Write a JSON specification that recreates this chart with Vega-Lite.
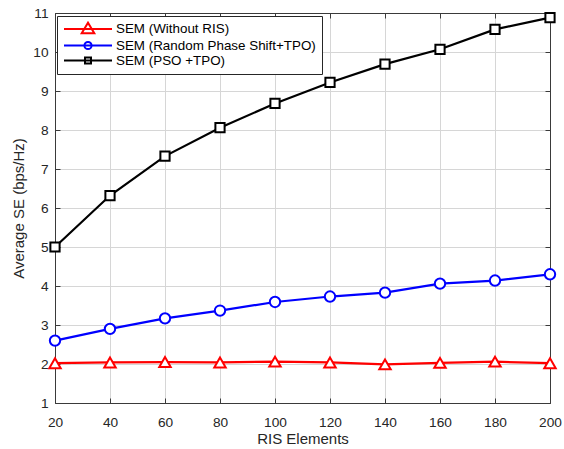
{
  "$schema": "https://vega.github.io/schema/vega-lite/v6.json",
  "width": 495,
  "height": 390,
  "autosize": {"type": "none"},
  "padding": {"left": 55, "top": 13, "right": 14, "bottom": 46},
  "background": "white",
  "config": {
    "font": "Liberation Sans",
    "view": {"stroke": "#3a3a3a", "strokeWidth": 1},
    "axis": {
      "labelFont": "Liberation Sans",
      "titleFont": "Liberation Sans",
      "labelFontSize": 13.7,
      "titleFontSize": 15,
      "labelColor": "#262626",
      "titleColor": "#262626",
      "titleFontWeight": "normal",
      "domainColor": "#3a3a3a",
      "tickColor": "#3a3a3a",
      "labelFlush": false
    },
    "legend": {
      "title": null,
      "orient": "none",
      "legendX": 2,
      "legendY": 3,
      "direction": "vertical",
      "padding": 6,
      "strokeColor": "#262626",
      "fillColor": "white",
      "labelFont": "Liberation Sans",
      "labelFontSize": 13.4,
      "labelColor": "#000000",
      "labelLimit": 400,
      "symbolSize": 144,
      "symbolOffset": 18,
      "labelOffset": 21,
      "rowPadding": -0.5,
      "symbolStrokeWidth": 2,
      "symbolFillColor": "white",
      "symbolOpacity": 1
    }
  },
  "data": {
    "values": [
      {"n": 20, "se": 2.02, "series": "SEM (Without RIS)"},
      {"n": 40, "se": 2.04, "series": "SEM (Without RIS)"},
      {"n": 60, "se": 2.05, "series": "SEM (Without RIS)"},
      {"n": 80, "se": 2.04, "series": "SEM (Without RIS)"},
      {"n": 100, "se": 2.06, "series": "SEM (Without RIS)"},
      {"n": 120, "se": 2.04, "series": "SEM (Without RIS)"},
      {"n": 140, "se": 1.99, "series": "SEM (Without RIS)"},
      {"n": 160, "se": 2.03, "series": "SEM (Without RIS)"},
      {"n": 180, "se": 2.06, "series": "SEM (Without RIS)"},
      {"n": 200, "se": 2.02, "series": "SEM (Without RIS)"},
      {"n": 20, "se": 2.6, "series": "SEM (Random Phase Shift+TPO)"},
      {"n": 40, "se": 2.9, "series": "SEM (Random Phase Shift+TPO)"},
      {"n": 60, "se": 3.17, "series": "SEM (Random Phase Shift+TPO)"},
      {"n": 80, "se": 3.37, "series": "SEM (Random Phase Shift+TPO)"},
      {"n": 100, "se": 3.59, "series": "SEM (Random Phase Shift+TPO)"},
      {"n": 120, "se": 3.73, "series": "SEM (Random Phase Shift+TPO)"},
      {"n": 140, "se": 3.83, "series": "SEM (Random Phase Shift+TPO)"},
      {"n": 160, "se": 4.06, "series": "SEM (Random Phase Shift+TPO)"},
      {"n": 180, "se": 4.14, "series": "SEM (Random Phase Shift+TPO)"},
      {"n": 200, "se": 4.3, "series": "SEM (Random Phase Shift+TPO)"},
      {"n": 20, "se": 5.0, "series": "SEM (PSO +TPO)"},
      {"n": 40, "se": 6.32, "series": "SEM (PSO +TPO)"},
      {"n": 60, "se": 7.33, "series": "SEM (PSO +TPO)"},
      {"n": 80, "se": 8.06, "series": "SEM (PSO +TPO)"},
      {"n": 100, "se": 8.68, "series": "SEM (PSO +TPO)"},
      {"n": 120, "se": 9.22, "series": "SEM (PSO +TPO)"},
      {"n": 140, "se": 9.69, "series": "SEM (PSO +TPO)"},
      {"n": 160, "se": 10.07, "series": "SEM (PSO +TPO)"},
      {"n": 180, "se": 10.58, "series": "SEM (PSO +TPO)"},
      {"n": 200, "se": 10.88, "series": "SEM (PSO +TPO)"}
    ]
  },
  "layer": [
    {
      "mark": {"type": "line", "strokeWidth": 2.2},
      "encoding": {
        "x": {
          "field": "n", "type": "quantitative",
          "scale": {"domain": [20, 200], "nice": false, "zero": false},
          "axis": {"title": "RIS Elements", "values": [20, 40, 60, 80, 100, 120, 140, 160, 180, 200], "grid": true, "gridColor": "#d6d6d6", "gridWidth": 1, "tickSize": -5, "labelPadding": 17, "titlePadding": 3}
        },
        "y": {
          "field": "se", "type": "quantitative",
          "scale": {"domain": [1, 11], "nice": false, "zero": false},
          "axis": {"title": "Average SE (bps/Hz)", "values": [1, 2, 3, 4, 5, 6, 7, 8, 9, 10, 11], "grid": true, "gridColor": "#d6d6d6", "gridWidth": 1, "tickSize": -5, "labelPadding": 12, "titlePadding": 6}
        },
        "color": {
          "field": "series", "type": "nominal",
          "scale": {"domain": ["SEM (Without RIS)", "SEM (Random Phase Shift+TPO)", "SEM (PSO +TPO)"], "range": ["#ff0000", "#0000ff", "#000000"]},
          "legend": null
        },
        "detail": {"field": "series"}
      }
    },
    {
      "mark": {"type": "point", "filled": false, "fill": "white", "fillOpacity": 1, "strokeWidth": 2, "opacity": 1},
      "encoding": {
        "x": {
          "field": "n", "type": "quantitative",
          "axis": {"orient": "top", "labels": false, "grid": false, "title": null, "tickSize": -5, "values": [20, 40, 60, 80, 100, 120, 140, 160, 180, 200]}
        },
        "y": {
          "field": "se", "type": "quantitative",
          "axis": {"orient": "right", "labels": false, "grid": false, "title": null, "tickSize": -5, "values": [1, 2, 3, 4, 5, 6, 7, 8, 9, 10, 11]}
        },
        "color": {
          "field": "series", "type": "nominal",
          "scale": {"domain": ["SEM (Without RIS)", "SEM (Random Phase Shift+TPO)", "SEM (PSO +TPO)"], "range": ["#ff0000", "#0000ff", "#000000"]},
          "legend": null
        },
        "shape": {
          "field": "series", "type": "nominal",
          "scale": {"domain": ["SEM (Without RIS)", "SEM (Random Phase Shift+TPO)", "SEM (PSO +TPO)"], "range": ["triangle-up", "circle", "square"]},
          "legend": null
        },
        "size": {
          "field": "series", "type": "nominal",
          "scale": {"domain": ["SEM (Without RIS)", "SEM (Random Phase Shift+TPO)", "SEM (PSO +TPO)"], "range": [130, 85, 55]},
          "legend": null
        }
      }
    },
    {
      "mark": {"type": "point", "filled": false, "fill": "white", "fillOpacity": 1, "strokeWidth": 2, "opacity": 0},
      "encoding": {
        "x": {"field": "n", "type": "quantitative", "axis": null},
        "y": {"field": "se", "type": "quantitative", "axis": null},
        "color": {
          "field": "series", "type": "nominal",
          "scale": {"domain": ["SEM (Without RIS)", "SEM (Random Phase Shift+TPO)", "SEM (PSO +TPO)"], "range": ["#ff0000", "#0000ff", "#000000"]}
        },
        "shape": {
          "field": "series", "type": "nominal",
          "scale": {
            "domain": ["SEM (Without RIS)", "SEM (Random Phase Shift+TPO)", "SEM (PSO +TPO)"],
            "range": [
              "M-4,0H4M-1.05,0.7L0,-1.05L1.05,0.7Z",
              "M-4,0H4M-0.6,0A0.6,0.6 0 1,0 0.6,0A0.6,0.6 0 1,0 -0.6,0Z",
              "M-4,0H4M-0.5,-0.5H0.5V0.5H-0.5Z"
            ]
          }
        }
      }
    }
  ],
  "resolve": {
    "axis": {"x": "independent", "y": "independent"},
    "scale": {"color": "independent", "shape": "independent"}
  }
}
